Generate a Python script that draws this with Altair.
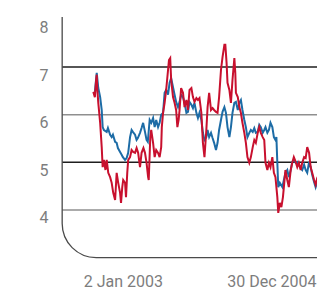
import altair as alt
import pandas as pd

# day offsets from 2 Jan 2003 and values
blue_days = [5, 11, 16, 22, 27, 30, 34, 43, 47, 54, 59, 63, 70, 75, 79, 86, 91, 95, 102, 107,
             112, 118, 123, 127, 134, 139, 143, 150, 155, 160, 166, 171, 175, 181, 186, 192, 197, 202, 208, 213,
             218, 224, 229, 234, 240, 245, 250, 256, 261, 266, 272, 277, 282, 288, 293, 299, 304, 309, 315, 320,
             325, 331, 336, 341, 347, 352, 357, 363, 367, 372, 378, 383, 388, 394, 399, 404, 410, 415, 421, 426,
             431, 437, 442, 447, 453, 458, 464, 469, 474, 479, 485, 490, 495, 501, 506, 512, 517, 522, 528, 533,
             538, 544, 549, 553, 559, 564, 569, 575, 580, 585, 588, 591, 594, 599, 607, 612, 617, 623, 628, 634,
             639, 644, 650, 655, 660, 666, 671, 677, 682, 687, 693, 698, 703, 709, 714, 719, 725]
blue_vals = [6.48, 6.88, 6.56, 6.37, 6.10, 5.74, 5.68, 5.64, 5.72, 5.58, 5.53, 5.58, 5.43, 5.41, 5.30, 5.22, 5.16, 5.11, 5.05, 5.09,
             5.20, 5.53, 5.68, 5.64, 5.58, 5.47, 5.51, 5.62, 5.72, 5.83, 5.64, 5.47, 5.43, 5.89, 5.83, 5.93, 5.74, 5.89, 5.74, 5.83,
             6.00, 6.04, 6.46, 6.52, 6.42, 6.67, 6.77, 6.58, 6.42, 6.27, 6.16, 6.27, 6.42, 6.37, 6.25, 6.04, 6.06, 6.27, 6.21, 6.14,
             6.25, 6.04, 5.93, 6.04, 5.89, 5.62, 5.47, 5.53, 5.68, 5.53, 5.62, 5.51, 5.41, 5.26, 5.41, 5.68, 5.89, 6.06, 6.16, 6.04,
             5.74, 5.53, 5.74, 6.04, 6.25, 6.27, 6.10, 6.25, 6.31, 6.10, 5.89, 5.74, 5.53, 5.62, 5.68, 5.64, 5.72, 5.62, 5.64, 5.79,
             5.74, 5.62, 5.68, 5.74, 5.62, 5.68, 5.83, 5.74, 5.53, 5.47, 5.53, 4.99, 4.48, 4.57, 4.48, 4.63, 4.78, 4.84, 4.69, 4.84,
             5.01, 5.05, 4.99, 5.01, 4.95, 4.88, 4.84, 4.95, 4.84, 4.78, 5.01, 4.90, 4.74, 4.59, 4.48, 4.59, 4.63]

red_days = [0, 5, 9, 11, 13, 16, 22, 27, 30, 34, 39, 43, 48, 54, 59, 64, 70, 75, 80, 86,
            89, 93, 96, 102, 105, 109, 112, 118, 123, 128, 134, 139, 144, 150, 155, 161, 166, 171, 176, 178,
            183, 186, 192, 197, 202, 208, 213, 218, 220, 224, 229, 234, 240, 243, 247, 250, 256, 261, 266, 270,
            274, 277, 282, 288, 293, 299, 304, 309, 315, 320, 325, 331, 336, 341, 347, 352, 357, 363, 367, 372,
            378, 383, 388, 394, 399, 404, 410, 415, 421, 424, 428, 431, 437, 442, 447, 453, 456, 458, 464, 469,
            474, 479, 485, 490, 495, 501, 506, 512, 517, 522, 528, 533, 538, 544, 549, 553, 559, 564, 569, 575,
            580, 585, 591, 594, 599, 604, 609, 612, 617, 623, 628, 634, 639, 644, 650, 655, 660, 666, 671, 677,
            682, 687, 693, 698, 703, 709, 714, 719, 725]
red_vals = [6.48, 6.37, 6.73, 6.84, 6.52, 6.25, 5.83, 5.32, 4.90, 5.05, 4.84, 5.05, 4.78, 4.69, 4.57, 4.36, 4.21, 4.78, 4.57, 4.36,
            4.15, 4.48, 4.63, 4.57, 4.27, 4.78, 5.05, 5.11, 5.26, 5.22, 5.20, 5.30, 5.20, 4.90, 5.20, 5.30, 5.20, 4.99, 4.69, 4.63,
            5.53, 5.68, 5.41, 5.11, 5.26, 5.20, 5.11, 5.32, 5.74, 6.04, 6.25, 6.52, 6.94, 7.15, 7.19, 6.73, 6.37, 6.25, 6.10, 5.74,
            5.89, 6.10, 6.56, 6.46, 6.16, 6.31, 6.10, 6.52, 6.56, 6.37, 6.27, 6.35, 6.31, 6.35, 6.04, 5.41, 5.11, 5.68, 6.16, 6.46,
            6.10, 6.14, 6.10, 6.06, 6.04, 6.37, 6.94, 7.21, 7.47, 7.47, 7.09, 6.67, 6.52, 6.25, 6.73, 7.19, 6.88, 6.46, 6.37, 6.16,
            6.04, 5.83, 5.62, 5.41, 5.11, 4.99, 5.11, 5.32, 5.47, 5.41, 5.62, 5.74, 5.62, 5.53, 5.47, 4.99, 4.84, 4.99, 4.90, 5.11,
            4.78, 4.69, 4.27, 3.94, 4.15, 4.06, 4.27, 4.48, 4.84, 4.63, 4.48, 4.84, 4.99, 5.11, 5.01, 4.90, 4.99, 4.84, 4.99, 5.11,
            5.09, 5.32, 5.20, 4.90, 4.78, 4.63, 4.53, 4.67, 4.74]

grid_vals = [4, 5, 6, 7]
grid_colors = ["#8f8f8f", "#1e1e1e", "#8f8f8f", "#1e1e1e"]
y_ticks = [4, 5, 6, 7, 8]
x_tick_days = [0, 728]
x_tick_labels = ["2 Jan 2003", "30 Dec 2004"]
blue_color = "#1d6ca6"
red_color = "#c8102e"

X_DOMAIN = [-113.4, 718.4]
Y_DOMAIN = [2.9076, 8.0525]
xs = alt.Scale(domain=X_DOMAIN, nice=False, zero=False)
ys = alt.Scale(domain=Y_DOMAIN, nice=False, zero=False)

# the last tick sits at the visible end of the axis (clamped into the domain)
axis_x_values = [min(d, X_DOMAIN[1]) for d in x_tick_days]
label_expr = f"datum.value < 100 ? '{x_tick_labels[0]}' : '{x_tick_labels[1]}'"

FONT = "Roboto"
LABEL_COLOR = "#7d7d7d"

x_axis = alt.Axis(
    values=axis_x_values, labelExpr=label_expr, title=None, domain=False, ticks=False,
    grid=False, labelFont=FONT, labelFontSize=16, labelColor=LABEL_COLOR,
    labelBaseline="top", labelPadding=11, labelFlush=False, labelOverlap=False,
    labelAlign={"condition": {"test": "datum.value < 100", "value": "left"}, "value": "right"},
    labelOffset={"condition": {"test": "datum.value < 100", "value": -10}, "value": -1},
)
y_axis = alt.Axis(
    values=y_ticks, title=None, domain=False, ticks=False, grid=False,
    labelFont=FONT, labelFontSize=16, labelColor=LABEL_COLOR,
    labelBaseline="top", labelPadding=10, labelFlush=False, labelOverlap=False,
)

grid_df = pd.DataFrame({"v": grid_vals, "c": grid_colors, "x": [-100] * 4, "x2": [728] * 4})
grid = alt.Chart(grid_df).mark_rule(strokeWidth=1.5).encode(
    y=alt.Y("v:Q", scale=ys, axis=y_axis),
    x=alt.X("x:Q", scale=xs, axis=x_axis),
    x2="x2:Q",
    color=alt.Color("c:N", scale=None),
)

frame_df = pd.DataFrame({"x": [-100], "x2": [900], "y": [3.0], "y2": [9.5]})
frame = alt.Chart(frame_df).mark_rect(
    fill="transparent", stroke="#4a4a4a", strokeWidth=1.3, cornerRadiusBottomLeft=34, clip=True
).encode(
    x=alt.X("x:Q", scale=xs, axis=x_axis), x2="x2:Q",
    y=alt.Y("y:Q", scale=ys, axis=y_axis), y2="y2:Q",
)

blue_df = pd.DataFrame({"d": blue_days, "v": blue_vals})
red_df = pd.DataFrame({"d": red_days, "v": red_vals})

blue = alt.Chart(blue_df).mark_line(color=blue_color, strokeWidth=2, clip=True).encode(
    x=alt.X("d:Q", scale=xs, axis=x_axis), y=alt.Y("v:Q", scale=ys, axis=y_axis)
)
red = alt.Chart(red_df).mark_line(color=red_color, strokeWidth=2, clip=True).encode(
    x=alt.X("d:Q", scale=xs, axis=x_axis), y=alt.Y("v:Q", scale=ys, axis=y_axis)
)

chart = alt.layer(grid, frame, blue, red).properties(
    width=259, height=245,
    autosize=alt.AutoSizeParams(type="none"),
    padding={"left": 50, "top": 9, "right": 0, "bottom": 28},
).configure_view(stroke=None)

chart.save("out.html", embed_options={"renderer": "svg", "actions": False})
